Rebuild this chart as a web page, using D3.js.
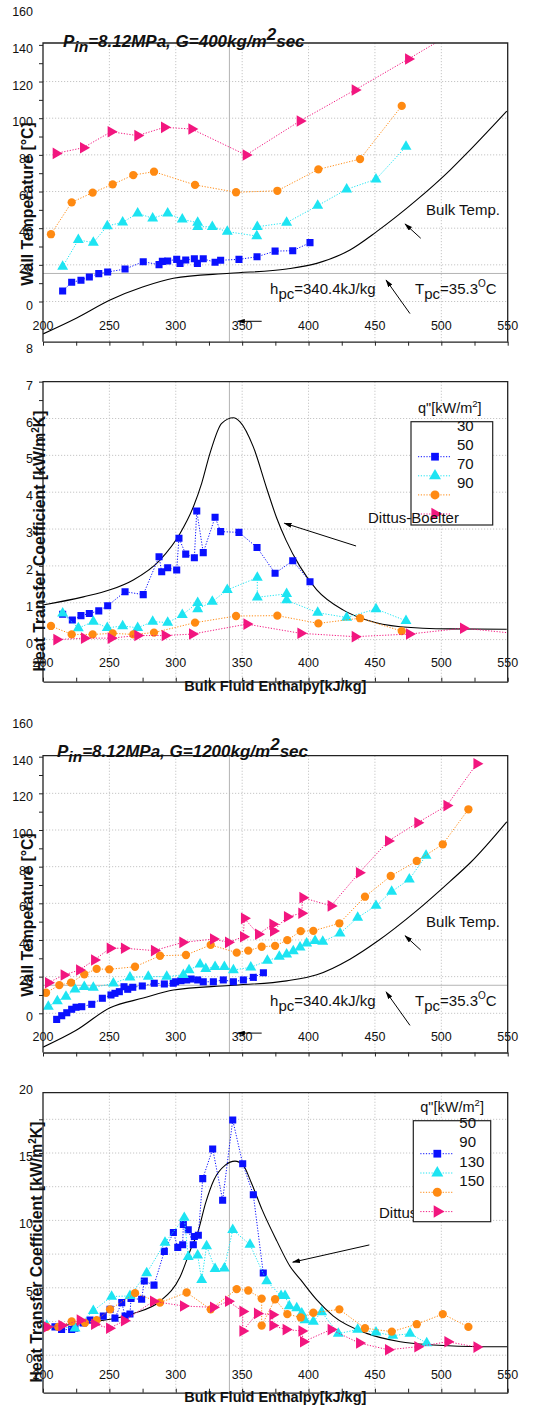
<!DOCTYPE html>
<html>
<head>
<meta charset="utf-8">
<script src="https://cdn.jsdelivr.net/npm/d3@7"></script>
<style>
body { margin: 0; background: #fff; }
text { font-family: "Liberation Sans", Arial, sans-serif; fill: #111; }
</style>
</head>
<body>
<svg width="535" height="1407"></svg>
<script>
var xTicks = [200, 250, 300, 350, 400, 450, 500, 550];
var hpc = 340.4;
var tpcLine = 15.3;
var massFlux = ["400", "1200"];
var legend400 = ["30", "50", "70", "90"];
var legend1200 = ["50", "90", "130", "150"];
var tempLabels = [0, 20, 40, 60, 80, 100, 120, 140, 160];
var htc400Labels = [0, 1, 2, 3, 4, 5, 6, 7, 8];
var htc1200Labels = [0, 5, 10, 15, 20];

// G=400 wall temperature, [enthalpy, value]
var wt400q30 = [[214.8,5.7],[221.6,10.5],[228.6,11.6],[234.9,13.4],[242,15.2],[248.7,16.1],[261.8,17.7],[275.5,21.7],[287.4,20.1],[289.9,21.9],[293.9,22.1],[300.7,23.0],[303.2,20.8],[307.5,22.6],[314,23.3],[316.3,20.8],[320.7,23.3],[329.6,21.4],[333.8,22.5],[347.6,23.0],[361.2,24.4],[374.8,27.5],[388.1,27.7],[401.1,32.1]];
var wt400q50 = [[214.8,19.0],[226.6,33.6],[237.9,32.1],[248.4,41.2],[260,43.2],[271.3,48.1],[282.6,45.4],[293.9,48.1],[304.9,44.8],[316.5,43.0],[316.5,40.8],[327.5,40.8],[338.8,38.1],[361,35.7],[361.4,40.8],[383.5,43.0],[406.9,52.3],[428.7,61.2],[450.8,66.7],[473.4,84.5]];
var wt400q70 = [[206,36.7],[221.6,54.1],[237.4,59.4],[252.5,63.9],[268,69.0],[283.6,70.8],[314.5,63.6],[345.4,59.6],[376.5,60.4],[407.4,72.1],[438.8,77.7],[470.2,106.7]];
var wt400q90 = [[209.8,80.8],[230.4,83.9],[251.2,92.6],[271.3,90.5],[291.4,95.0],[312,94.1],[352.9,79.9],[393.6,98.5],[435,115.4],[475.2,132.3],[516.6,150]];
var bulk400 = [[200,-17.7],[225.4,-9.0],[250.5,0.8],[275.5,8.0],[298.2,12.7],[340.9,15.4],[383.5,17.7],[406.2,20.8],[431.2,28.1],[451.3,38.1],[481.5,55.4],[506.6,71.7],[519.1,80.8],[549.3,103.9]];

// G=400 heat transfer coefficient
var htc400q30 = [[214.8,0.69],[222.1,0.53],[228.6,0.65],[234.9,0.71],[242,0.78],[248.7,0.92],[261.8,1.30],[275.5,1.22],[287.4,2.25],[289.4,1.84],[293.9,1.95],[300.7,1.89],[302.4,2.75],[307.5,2.32],[314,2.22],[315.8,3.49],[320.7,2.36],[329.6,3.32],[333.8,2.93],[347.6,2.91],[361.2,2.50],[374.8,1.80],[388.1,2.14],[401.1,1.57]];
var htc400q50 = [[214.8,0.71],[226.6,0.31],[237.9,0.49],[248.4,0.32],[260,0.37],[271.3,0.32],[282.6,0.49],[293.9,0.46],[304.9,0.67],[316.5,1.00],[316.5,0.83],[327.5,1.03],[338.8,1.35],[361.4,1.68],[361.4,1.15],[383.5,1.24],[383.5,1.07],[406.9,0.73],[428.7,0.60],[450.8,0.83],[473.4,0.51]];
var htc400q70 = [[206,0.37],[221.6,0.14],[237.4,0.14],[252.5,0.17],[268,0.14],[283.6,0.19],[314.5,0.46],[345.4,0.64],[376.5,0.65],[407.4,0.44],[438.8,0.58],[470.2,0.23]];
var htc400q90 = [[210.3,0.0],[231.1,0.04],[251.2,0.04],[271.3,0.11],[291.9,0.11],[312.5,0.15],[353.5,0.42],[394.1,0.17],[435,0.08],[475.9,0.15],[516.6,0.31],[560,0.15]];
var db400 = [[200,0.94],[230.4,1.16],[250.5,1.35],[268,1.62],[288.1,2.16],[303.2,2.88],[313.2,3.6],[319.5,4.24],[325.8,5.06],[334.6,5.87],[343.4,6.02],[348.4,5.91],[358.4,5.23],[368.5,4.1],[376,3.3],[383,2.7],[393.6,1.98],[406.2,1.35],[426.2,0.80],[443.8,0.53],[469,0.35],[506.6,0.29],[549.3,0.28]];

// G=1200 wall temperature
var wt1200q50 = [[210.3,-3.3],[214.1,-1.3],[217.9,0.3],[221.6,2.2],[224.9,3.3],[229.2,3.6],[236.7,4.9],[244.7,8.2],[251.2,10.0],[254.2,10.9],[257.5,11.8],[261,14.5],[263.8,13.1],[267.6,14.2],[274.8,14.9],[283.8,16.4],[291.4,16.0],[298.1,16.4],[299.9,17.2],[303.9,17.8],[308.2,18.2],[311.5,18.7],[316.5,18.2],[320.7,17.2],[328.3,17.2],[335.8,18.2],[343.4,17.2],[350.9,18.2],[358.4,19.6],[366,22.1]];
var wt1200q90 = [[204,3.6],[210.8,6.7],[217.3,9.1],[224.1,13.1],[231.1,14.5],[237.9,14.0],[253,16.4],[265.5,19.6],[279.3,20.0],[293.2,20.0],[305.7,21.0],[310,23.6],[318.3,26.7],[322.6,24.2],[329.6,25.4],[336.6,25.4],[343.4,23.6],[356.5,25.1],[369,28.7],[378,30.9],[383.5,32.2],[388.5,34.0],[393.6,36.0],[398.6,38.2],[404.9,39.6],[410.7,39.1],[423.7,43.6],[437,52.2],[450.8,58.7],[462.6,66.4],[475.9,73.1],[488.5,86.0]];
var wt1200q130 = [[202.3,11.2],[212.3,15.4],[221.1,16.7],[231.1,21.3],[240.4,24.2],[249.9,24.0],[269.3,25.4],[288.1,31.4],[307.7,31.8],[326.3,37.3],[345.9,33.1],[354.6,34.2],[364.7,36.3],[374.8,36.8],[384,39.9],[394.1,44.8],[403.6,45.0],[423.2,49.1],[442.5,63.6],[461.9,74.9],[481.5,83.1],[501.1,92.2],[520.4,111.3]];
var wt1200q150 = [[204,16.7],[215.8,20.9],[227.4,23.6],[238.7,29.1],[250.5,35.5],[261.2,35.5],[283.8,34.2],[305.2,38.7],[328.3,40.5],[339.6,38.7],[350.9,41.8],[351.6,51.8],[362.2,43.1],[373,48.6],[373.5,44.9],[384,52.7],[394.8,54.6],[395.6,63.1],[416.9,58.6],[438.2,76.7],[460.1,94.0],[482.2,104.0],[504.1,113.3],[526.7,136.1]];
var bulk1200 = [[200,-18.5],[225,-9.3],[250.5,3.0],[275.5,8.3],[298.2,12.7],[340.9,15.2],[383.5,17.7],[406.2,21],[431.2,29.5],[451.3,39],[481.5,56],[506.6,72],[521.6,82],[549.3,104.5]];

// G=1200 heat transfer coefficient
var htc1200q50 = [[209,2.1],[214,1.9],[221.6,1.9],[224,2.0],[230.4,2.4],[235.4,2.6],[245.4,2.9],[250.5,3.4],[254.2,2.75],[259.3,3.9],[261.8,2.9],[265.5,3.05],[266.3,4.2],[274.3,4.15],[276.3,5.5],[283.6,5.2],[291.4,7.7],[298.2,9.1],[301.5,8.0],[305.2,8.2],[305.7,9.7],[309.4,9.3],[313.2,8.2],[314,8.8],[317,8.9],[320.3,13.1],[327.8,15.3],[335.3,11.5],[342.9,17.45],[350.4,14.2],[358.4,11.9],[365.9,6.1]];
var htc1200q90 = [[202.8,2.2],[224.1,2.0],[237.9,3.3],[251.7,4.35],[265.5,4.4],[278.1,6.1],[291.9,8.35],[306.4,10.2],[309.4,7.3],[316.5,7.4],[319.5,5.6],[323.2,8.1],[329.6,6.4],[336.6,6.45],[342.9,9.3],[355.9,8.2],[368.5,5.5],[379.3,4.4],[382.3,4.4],[385.5,3.65],[391.1,3.5],[394.9,3.1],[397.3,2.6],[403.6,2.5],[409.9,3.2],[422.4,1.6],[437,1.9],[450.8,1.7],[463.4,1.45],[476.4,1.6],[489,0.9]];
var htc1200q130 = [[202.8,2.1],[211.5,2.1],[221.6,2.5],[231.6,2.4],[240.4,2.6],[250.5,3.4],[269.3,4.6],[288.1,3.9],[308.2,4.65],[326.3,3.4],[345.9,4.9],[354.6,4.8],[364.7,4.2],[364.7,2.2],[374.8,4.15],[384,3.05],[394.1,2.8],[403.6,3.15],[423.2,3.4],[442.5,2.0],[462.7,1.75],[481.5,2.3],[501.1,3.05],[520.4,2.1]];
var htc1200q150 = [[202.8,2.1],[214.1,2.2],[227.9,2.6],[238.7,2.3],[250,2.0],[261.2,2.55],[283.1,4.0],[305.7,3.65],[328.3,3.55],[339.6,4.0],[350.4,3.25],[350.4,1.8],[361.4,3.1],[373,3.0],[373,2.2],[383,1.9],[394.9,1.8],[396.1,1.0],[416.9,1.9],[438.3,0.9],[460.1,0.4],[482.2,0.63],[504.8,1.0],[526.7,0.6]];
var db1200 = [[200,2.1],[240,2.5],[268,3.1],[288.1,4.0],[303.2,5.8],[312,8.05],[316.4,9.05],[322.5,11.3],[328.7,13.0],[337.3,14.1],[344.6,14.4],[350.7,14.1],[356.9,12.8],[365,10.8],[376,8.5],[386,6.6],[394,5.6],[406.2,4.1],[418.7,2.9],[443.8,1.62],[469,1.0],[494,0.76],[531.7,0.63],[550,0.63]];

var svg = d3.select("svg");
var x = d3.scaleLinear().domain([200, 550]).range([43, 507.7]);
var defs = svg.append("defs");
defs.append("marker").attr("id", "arrow").attr("viewBox", "0 0 10 6")
    .attr("refX", 9).attr("refY", 3).attr("markerWidth", 8).attr("markerHeight", 5)
    .attr("orient", "auto").attr("markerUnits", "userSpaceOnUse")
    .append("path").attr("d", "M0,0 L10,3 L0,6 Z").attr("fill", "#000");

var styles = [
    {color: "#0a10ff", shape: d3.symbolSquare, size: 50, rot: 0},
    {color: "#1de4f2", shape: d3.symbolTriangle, size: 52, rot: 0},
    {color: "#ff8a12", shape: d3.symbolCircle, size: 54, rot: 0},
    {color: "#f2167f", shape: d3.symbolTriangle, size: 58, rot: 90}
];

function drawSeries(g, y, data, st) {
    var line = d3.line().x(function(d){ return x(d[0]); }).y(function(d){ return y(d[1]); });
    g.append("path").attr("d", line(data)).attr("fill", "none")
        .attr("stroke", st.color).attr("stroke-width", 1).attr("stroke-dasharray", "1.2,1.6");
    g.selectAll(null).data(data).enter().append("path")
        .attr("transform", function(d){ return "translate(" + x(d[0]) + "," + y(d[1]) + ") rotate(" + st.rot + ")"; })
        .attr("d", d3.symbol().type(st.shape).size(st.size))
        .attr("fill", st.color);
}

function arrow(g, x1, y1, x2, y2) {
    g.append("line").attr("x1", x1).attr("y1", y1).attr("x2", x2).attr("y2", y2)
        .attr("stroke", "#000").attr("stroke-width", 1).attr("marker-end", "url(#arrow)");
}

function subText(g, x0, y0, main, sub, rest, sup, tail) {
    var t = g.append("text").attr("x", x0).attr("y", y0).attr("font-size", 15);
    t.append("tspan").text(main);
    t.append("tspan").attr("dy", 5).text(sub);
    t.append("tspan").attr("dy", -5).text(rest);
    if (sup) {
        t.append("tspan").attr("dy", -7).attr("font-size", 10).text(sup);
        t.append("tspan").attr("dy", 7).text(tail);
    }
}

function drawPanel(p) {
    var y = d3.scaleLinear().domain([0, 1]).range([p.y0, p.y0 - p.k]);
    var g = svg.append("g");
    var clipId = "clip" + p.id;
    defs.append("clipPath").attr("id", clipId).append("rect")
        .attr("x", x(200)).attr("y", p.top).attr("width", x(550) - x(200)).attr("height", p.bottom - p.top);

    // grid
    g.append("g").selectAll("line").data(xTicks.slice(1, -1)).enter().append("line")
        .attr("x1", function(d){ return x(d); }).attr("x2", function(d){ return x(d); })
        .attr("y1", p.top).attr("y2", p.bottom)
        .attr("stroke", "#c6c6c6").attr("stroke-dasharray", "1.2,1.8");
    g.append("g").selectAll("line").data(p.grid).enter().append("line")
        .attr("x1", x(200)).attr("x2", x(550))
        .attr("y1", function(d){ return y(d); }).attr("y2", function(d){ return y(d); })
        .attr("stroke", "#c6c6c6").attr("stroke-dasharray", "1.2,1.8");

    // pseudo-critical reference lines
    g.append("line").attr("x1", x(hpc)).attr("x2", x(hpc)).attr("y1", p.top).attr("y2", p.bottom)
        .attr("stroke", "#b4b4b4").attr("stroke-width", 1);
    if (p.temp) {
        g.append("line").attr("x1", x(200)).attr("x2", x(550))
            .attr("y1", y(tpcLine)).attr("y2", y(tpcLine))
            .attr("stroke", "#b4b4b4").attr("stroke-width", 1);
    }

    // tick labels
    g.append("g").selectAll("text").data(xTicks).enter().append("text")
        .attr("x", function(d){ return x(d); }).attr("y", p.xLabelY)
        .attr("text-anchor", "middle").attr("dominant-baseline", "central")
        .attr("font-size", 12.5).attr("fill", "#222").text(function(d){ return d; });
    g.append("g").selectAll("text").data(p.yLabels).enter().append("text")
        .attr("x", 33).attr("y", function(d){ return y(d) + 4; })
        .attr("text-anchor", "end").attr("dominant-baseline", "central")
        .attr("font-size", 12.5).attr("fill", "#222").text(function(d){ return d; });

    // data
    var plot = g.append("g").attr("clip-path", "url(#" + clipId + ")");
    plot.append("path").datum(p.curve)
        .attr("d", d3.line().curve(d3.curveMonotoneX)
            .x(function(d){ return x(d[0]); }).y(function(d){ return y(d[1]); }))
        .attr("fill", "none").attr("stroke", "#000").attr("stroke-width", 1.1);
    p.series.forEach(function(s, i){ drawSeries(plot, y, s, styles[i]); });

    // frame and axes
    var bottomAxis = d3.axisBottom(x).tickValues(d3.range(200, 551, 25))
        .tickFormat("").tickSize(p.tickUp ? -4 : 4).tickSizeOuter(0);
    var ax = g.append("g").attr("transform", "translate(0," + p.bottom + ")").call(bottomAxis);
    ax.select(".domain").attr("stroke", "#222").attr("stroke-width", 1.3);
    ax.selectAll(".tick line").attr("stroke", "#222");
    var leftAxis = d3.axisLeft(y).tickValues(p.leftTicks).tickFormat("").tickSize(4).tickSizeOuter(0);
    var ay = g.append("g").attr("transform", "translate(" + x(200) + ",0)").call(leftAxis);
    ay.select(".domain").remove();
    ay.selectAll(".tick line").attr("stroke", "#222");
    g.append("path")
        .attr("d", "M" + x(200) + "," + p.bottom + "V" + p.top + "H" + x(550) + "V" + p.bottom)
        .attr("fill", "none").attr("stroke", "#222").attr("stroke-width", 1.3);

    // y title
    var yt = g.append("text")
        .attr("transform", "translate(" + p.yTitleX + "," + p.yTitleY + ") rotate(-90)")
        .attr("text-anchor", "middle").attr("font-size", 15.8).attr("font-weight", "bold");
    if (p.temp) {
        yt.text("Wall Temperature [°C]");
    } else {
        yt.append("tspan").text("Heat Transfer Coefficient [kW/m");
        yt.append("tspan").attr("dy", -6).attr("font-size", 10).text("2");
        yt.append("tspan").attr("dy", 6).text("K]");
        g.append("text").attr("x", x(375)).attr("y", p.bottom + 9)
            .attr("text-anchor", "middle").attr("font-size", 14.5).attr("font-weight", "bold")
            .text("Bulk Fluid Enthalpy[kJ/kg]");
    }
    return {g: g, y: y};
}

function drawTitle(x0, y0, G) {
    var t = svg.append("text").attr("x", x0).attr("y", y0).attr("font-size", 17)
        .attr("font-weight", "bold").attr("font-style", "italic");
    t.append("tspan").text("P");
    t.append("tspan").attr("dy", 5).attr("font-size", 15.5).text("in");
    t.append("tspan").attr("dy", -5).text("=8.12MPa, G=" + G + "kg/m");
    t.append("tspan").attr("dy", -7).text("2");
    t.append("tspan").attr("dy", 7).text("sec");
}

function tempNotes(r) {
    var g = r.g, y = r.y;
    g.append("text").attr("x", x(488.5)).attr("y", y(47)).attr("font-size", 15).text("Bulk Temp.");
    arrow(g, x(484.5), y(34.5), x(472.7), y(42.3));
    subText(g, x(371), y(4), "h", "pc", "=340.4kJ/kg");
    subText(g, x(480.2), y(4), "T", "pc", "=35.3", "O", "C");
    arrow(g, x(476.4), y(-6.6), x(458.4), y(11.7));
    arrow(g, x(364.7), y(-10.8), x(346.6), y(-10.8));
}

function legendBox(g, lx, ly, lw, lh, labels, labelY0, symY0, step) {
    var t = g.append("text").attr("x", lx + 7).attr("y", ly - 9).attr("font-size", 14.5);
    t.append("tspan").text("q\"[kW/m");
    t.append("tspan").attr("dy", -6).attr("font-size", 9.5).text("2");
    t.append("tspan").attr("dy", 6).text("]");
    g.append("rect").attr("x", lx).attr("y", ly).attr("width", lw).attr("height", lh)
        .attr("fill", "#fff").attr("stroke", "#222").attr("stroke-width", 1.2);
    styles.forEach(function(st, i){
        var sy = symY0 + i * step;
        g.append("line").attr("x1", lx + 7).attr("x2", lx + 40).attr("y1", sy).attr("y2", sy)
            .attr("stroke", st.color).attr("stroke-dasharray", "1.2,1.6");
        g.append("path").attr("transform", "translate(" + (lx + 24) + "," + sy + ") rotate(" + st.rot + ")")
            .attr("d", d3.symbol().type(st.shape).size(st.size + 10)).attr("fill", st.color);
    });
    g.selectAll(null).data(labels).enter().append("text")
        .attr("x", lx + 46).attr("y", function(d, i){ return labelY0 + i * step; })
        .attr("font-size", 15).text(function(d){ return d; });
}

// panel 1: G=400 wall temperature
var r1 = drawPanel({id: 1, top: 43, bottom: 341.7, y0: 301.5, k: 1.833, temp: true,
    grid: d3.range(0, 121, 20), leftTicks: d3.range(0, 141, 10), yLabels: tempLabels,
    xLabelY: 326, yTitleX: 33, yTitleY: 204,
    curve: bulk400, series: [wt400q30, wt400q50, wt400q70, wt400q90]});
tempNotes(r1);
drawTitle(63, 46.5, massFlux[0]);

// panel 2: G=400 heat transfer coefficient
var r2 = drawPanel({id: 2, top: 381.7, bottom: 681.7, y0: 639.6, k: 36.85, temp: false, tickUp: true,
    grid: d3.range(0, 7, 1), leftTicks: d3.range(0, 7.1, 0.5), yLabels: htc400Labels,
    xLabelY: 663, yTitleX: 45, yTitleY: 541,
    curve: db400, series: [htc400q30, htc400q50, htc400q70, htc400q90]});
legendBox(r2.g, 411, 421.7, 81.7, 103.3, legend400, 431, 456.7, 19.1);
r2.g.append("text").attr("x", x(444.8)).attr("y", r2.y(3.3) + 5).attr("font-size", 15).text("Dittus-Boelter");
arrow(r2.g, x(435.8), r2.y(2.54), x(381.8), r2.y(3.16));

// panel 3: G=1200 wall temperature
var r3 = drawPanel({id: 3, top: 755.7, bottom: 1052.5, y0: 1013.3, k: 1.833, temp: true,
    grid: d3.range(0, 121, 20), leftTicks: d3.range(0, 141, 10), yLabels: tempLabels,
    xLabelY: 1036.7, yTitleX: 33, yTitleY: 915,
    curve: bulk1200, series: [wt1200q50, wt1200q90, wt1200q130, wt1200q150]});
tempNotes(r3);
drawTitle(57, 756.7, massFlux[1]);

// panel 4: G=1200 heat transfer coefficient
var r4 = drawPanel({id: 4, top: 1092.7, bottom: 1392.7, y0: 1355.2, k: 13.48, temp: false, tickUp: true,
    grid: d3.range(0, 18, 2.5), leftTicks: d3.range(0, 18, 2.5), yLabels: htc1200Labels,
    xLabelY: 1375, yTitleX: 41.5, yTitleY: 1252,
    curve: db1200, series: [htc1200q50, htc1200q90, htc1200q130, htc1200q150]});
r4.g.append("text").attr("x", x(453.1)).attr("y", r4.y(10.56) + 5).attr("font-size", 15).text("Dittus-Boelter");
arrow(r4.g, x(445.8), r4.y(8.18), x(388.1), r4.y(6.9));
legendBox(r4.g, 413.3, 1120.7, 77.4, 101, legend1200, 1128, 1153.7, 19.3);
</script>
</body>
</html>
